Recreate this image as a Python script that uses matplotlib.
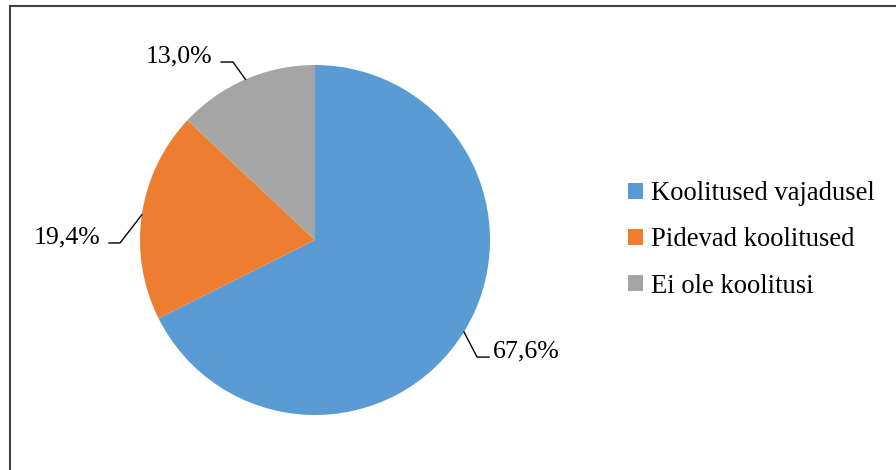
import matplotlib
matplotlib.use("Agg")
import matplotlib.pyplot as plt
from matplotlib.lines import Line2D
from matplotlib.patches import Patch
import numpy as np

categories = ["Koolitused vajadusel", "Pidevad koolitused", "Ei ole koolitusi"]
values = [67.6, 19.4, 13.0]
labels = ["67,6%", "19,4%", "13,0%"]
colors = ["#5B9BD5", "#ED7D31", "#A5A5A5"]

plt.rcParams['font.family'] = ['Liberation Serif', 'DejaVu Serif']
FS_LBL = 18.6
FS_LEG = 19.2

W, H = 896, 470
fig = plt.figure(figsize=(W / 100, H / 100), dpi=100)
fig.patch.set_facecolor("white")

cx, cy, r = 315, 240, 175
ax = fig.add_axes([(cx - r) / W, (H - cy - r) / H, 2 * r / W, 2 * r / H])
wedges, _ = ax.pie(values, colors=colors, startangle=90, counterclock=False,
                   radius=1.0, wedgeprops=dict(linewidth=0))
ax.set_xlim(-1, 1)
ax.set_ylim(-1, 1)
ax.set_aspect('equal')
ax.axis('off')

# leader lines + labels (elbow / label offsets in radius units)
layout = {
    0: dict(elbow=(0.926, -0.669), end=(0.994, -0.669), text=(1.017, -0.669), ha='left'),
    1: dict(elbow=(-1.114, -0.017), end=(-1.177, -0.017), text=(-1.223, -0.017), ha='right'),
    2: dict(elbow=(-0.469, 1.017), end=(-0.537, 1.017), text=(-0.589, 1.017), ha='right'),
}
for i, w in enumerate(wedges):
    ang = np.deg2rad((w.theta1 + w.theta2) / 2)
    ex, ey = np.cos(ang), np.sin(ang)
    L = layout[i]
    ax.plot([ex, L['elbow'][0], L['end'][0]], [ey, L['elbow'][1], L['end'][1]],
            color='black', lw=1.0, clip_on=False)
    ax.text(L['text'][0], L['text'][1], labels[i], ha=L['ha'], va='baseline',
            fontsize=FS_LBL, color='black', clip_on=False)

handles = [Patch(facecolor=c, edgecolor='none') for c in colors]
fig.legend(handles, categories, loc='center left', bbox_to_anchor=(628 / W, 1 - 240 / H),
           frameon=False, fontsize=FS_LEG, handlelength=0.55, handleheight=0.55,
           handletextpad=0.3, labelspacing=0.8, borderaxespad=0, borderpad=0)

# outer frame (top and left edges visible)
fig.add_artist(Line2D([9.5 / W, 1.0], [1 - 5.5 / H, 1 - 5.5 / H], transform=fig.transFigure,
                      color='#404040', lw=1.5))
fig.add_artist(Line2D([9.5 / W, 9.5 / W], [0, 1 - 5.5 / H], transform=fig.transFigure,
                      color='#404040', lw=1.5))

fig.savefig("out.png", dpi=100, facecolor='white')
